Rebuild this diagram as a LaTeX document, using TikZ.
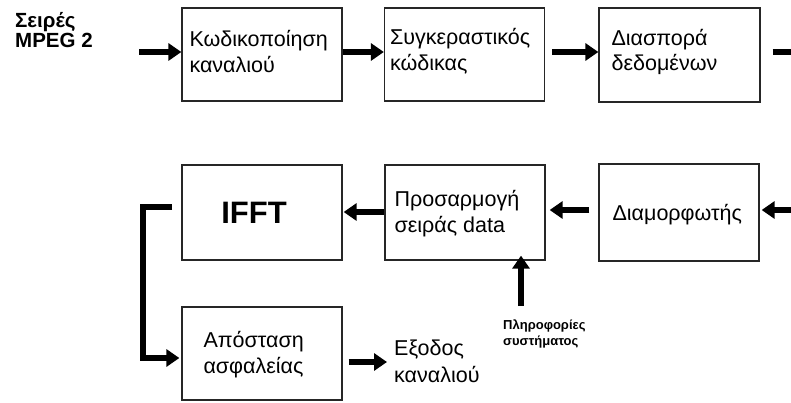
\documentclass[tikz,border=0pt]{standalone}
\usepackage{fontspec}
\setmainfont{Liberation Sans}
\usetikzlibrary{arrows.meta}
\begin{document}
\begin{tikzpicture}[x=1pt,y=-1pt,
  blk/.style={draw=black!85,line width=1.3pt,minimum width=160pt,minimum height=93pt,inner sep=0pt},
  txt/.style={font=\fontsize{21.5}{25.5}\selectfont,align=left,anchor=west,inner sep=0pt},
  flow/.style={line width=5.5pt,-{Triangle[length=13pt,width=17pt]}},
  bar/.style={line width=5.5pt}]
\useasboundingbox (0,0) rectangle (791,403);
\fill[white] (0,0) rectangle (791,403);

% source label
\node[font=\bfseries\fontsize{20.5}{20}\selectfont,align=left,anchor=north west,inner sep=0pt] (src) at (15,12) {Σειρές\\MPEG 2};

% top row
\node[blk] (enc) at (262,54.5) {};
\node[blk] (conv) at (464.5,54.5) {};
\node[blk,minimum width=161pt,minimum height=94pt] (spread) at (679.5,55) {};
\node[txt] (encT) at ([xshift=8pt,yshift=3pt]enc.west) {Κωδικοποίηση\\καναλιού};
\node[txt] (convT) at ([xshift=6pt,yshift=3pt]conv.west) {Συγκεραστικός\\κώδικας};
\node[txt] (spreadT) at ([xshift=13pt,yshift=3pt]spread.west) {Διασπορά\\δεδομένων};

% middle row
\node[blk,minimum height=95pt] (ifft) at (262,212.5) {};
\node[blk,minimum height=95pt] (adapt) at (465,212.5) {};
\node[blk,minimum height=97pt] (mod) at (679,212.5) {};
\node[font=\bfseries\fontsize{31}{34}\selectfont,inner sep=0pt] (ifftT) at ([xshift=-8pt]ifft.center) {IFFT};
\node[txt] (adaptT) at ([xshift=10pt,yshift=-1pt]adapt.west) {Προσαρμογή\\σειράς data};
\node[txt] (modT) at ([xshift=14pt,yshift=-2pt]mod.west) {Διαμορφωτής};

% bottom row
\node[blk] (guard) at (262,353.5) {};
\node[txt] (guardT) at ([xshift=22pt,yshift=-1pt]guard.west) {Απόσταση\\ασφαλείας};
\node[txt,font=\fontsize{21.5}{27}\selectfont] (out) at (394,361) {Εξοδος\\καναλιού};
\node[font=\bfseries\fontsize{13}{16}\selectfont,align=left,anchor=north west,inner sep=0pt] (info) at (503,320) {Πληροφορίες\\συστήματος};

% free ends of connectors
\coordinate (inS) at (139,52);
\coordinate (outE) at (791,52);
\coordinate (retS) at (791,210);
\coordinate (infoS) at (521,306);
\coordinate (brS) at (172,207);
\coordinate (brC) at (143,207);

% connectors
\draw[flow] (inS) -- (inS -| enc.west);
\draw[flow] (enc.east |- inS) -- (conv.west |- inS);
\draw[flow] ([xshift=7pt]conv.east |- inS) -- (spread.west |- inS);
\draw[bar] ([xshift=12pt]spread.east |- outE) -- (outE);
\draw[flow] (retS) -- ([xshift=2pt]mod.east |- retS);
\draw[flow] ([xshift=-9pt]mod.west |- retS) -- ([xshift=4pt]adapt.east |- retS);
\draw[flow] (adapt.west |- 0,212) -- ([xshift=1pt]ifft.east |- 0,212);
\draw[flow] (infoS) -- ([yshift=5pt]infoS |- adapt.south);
\draw[flow,line cap=butt] (brS) -- (brC) |- ([xshift=-2pt]guard.west |- 0,358);
\draw[flow] ([xshift=6pt]guard.east |- 0,362) -- ([xshift=-7pt]out.west |- 0,362);
\end{tikzpicture}
\end{document}
